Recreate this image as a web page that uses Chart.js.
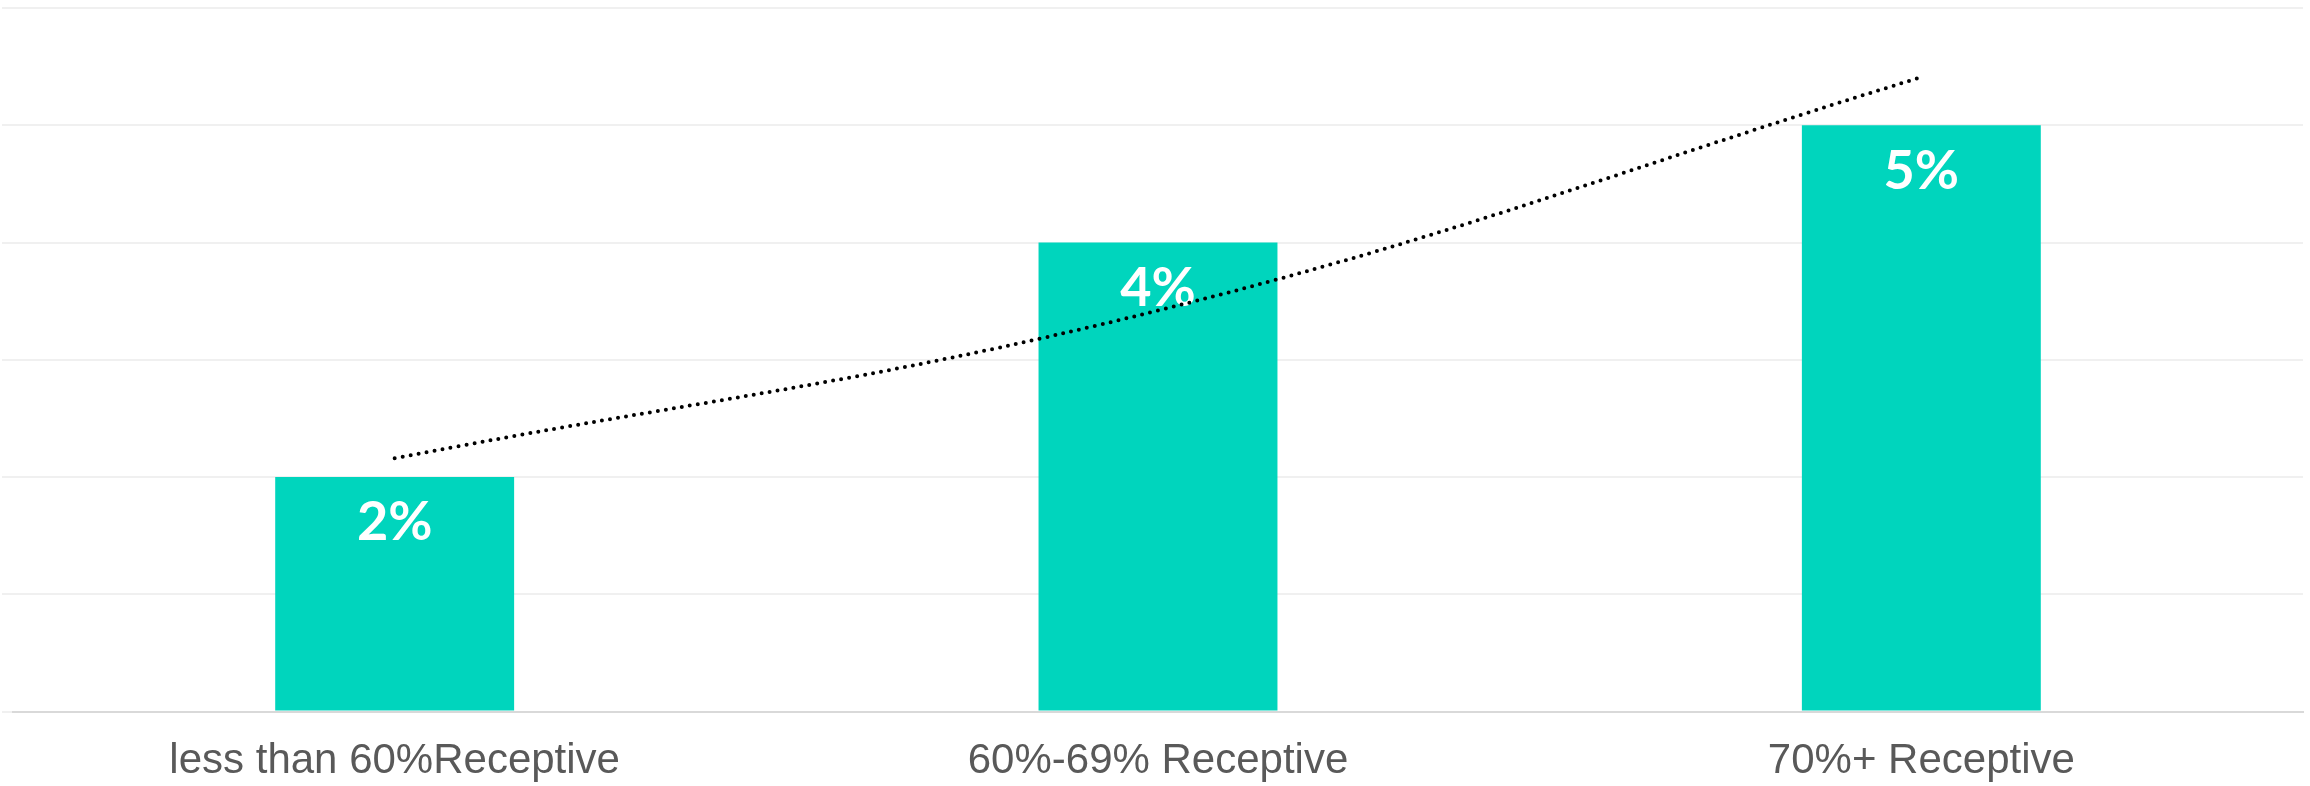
<!DOCTYPE html>
<html>
<head>
<meta charset="utf-8">
<script src="https://cdn.jsdelivr.net/npm/chart.js@4/dist/chart.umd.min.js"></script>
<style>
  html, body { margin: 0; padding: 0; background: #fff; }
  #wrap { width: 2310px; height: 786px; }
</style>
</head>
<body>
<div id="wrap"><canvas id="chart" width="2310" height="786"></canvas></div>
<script>
const categories = ["less than 60%Receptive", "60%-69% Receptive", "70%+ Receptive"];
const shares = [2, 4, 5];
const shareLabels = ["2%", "4%", "5%"];
// exponential trendline at each category
const trend = [2.16, 3.42, 5.41];

const barColor = "#00d5bd";

// white value labels inside the bars, drawn before the trendline
const barLabels = {
  id: "barLabels",
  afterDatasetDraw(chart, args) {
    if (args.index !== 0) return;
    const ctx = chart.ctx;
    ctx.save();
    ctx.fillStyle = "#ffffff";
    ctx.font = "bold 54px Lato, 'Open Sans', sans-serif";
    ctx.textAlign = "center";
    ctx.textBaseline = "middle";
    args.meta.data.forEach((bar, i) => {
      ctx.fillText(shareLabels[i], bar.x, bar.y + 46);
    });
    ctx.restore();
  }
};

new Chart(document.getElementById("chart"), {
  data: {
    labels: categories,
    datasets: [
      {
        type: "bar",
        data: shares,
        backgroundColor: barColor,
        categoryPercentage: 1,
        barPercentage: 0.313,
        order: 1
      },
      {
        type: "line",
        data: trend,
        borderColor: "#000000",
        borderWidth: 4,
        borderDash: [0, 8.1],
        borderCapStyle: "round",
        pointRadius: 0,
        tension: 0.4,
        fill: false,
        order: 0
      }
    ]
  },
  options: {
    responsive: false,
    animation: false,
    devicePixelRatio: 1,
    layout: { padding: { left: 2, right: 7, top: 8, bottom: -18 } },
    plugins: {
      legend: { display: false },
      tooltip: { enabled: false }
    },
    scales: {
      x: {
        grid: { display: false },
        border: { display: true, color: "#d9d9d9", width: 2 },
        ticks: {
          color: "#595959",
          font: { family: "'Liberation Sans', Arial, sans-serif", size: 42 },
          padding: 17,
          maxRotation: 0
        }
      },
      y: {
        min: 0,
        max: 6,
        ticks: { display: false, stepSize: 1 },
        border: { display: false },
        grid: { color: "#f0f0f0", lineWidth: 2, tickLength: 11 }
      }
    }
  },
  plugins: [barLabels]
});
</script>
</body>
</html>
